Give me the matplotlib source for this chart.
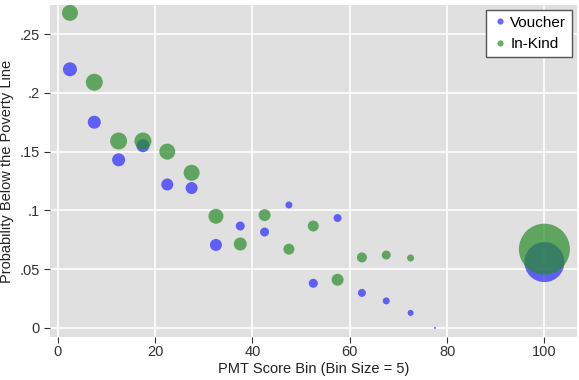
import numpy as np
import matplotlib.pyplot as plt

plt.rcParams['font.family'] = ['Liberation Sans', 'DejaVu Sans']

# PMT score bins (midpoints), last one is the "100" group
bins_vouch = [2.5, 7.5, 12.5, 17.5, 22.5, 27.5, 32.5, 37.5, 42.5, 47.5,
              52.5, 57.5, 62.5, 67.5, 72.5, 77.5, 100]
prob_vouch = [0.220, 0.175, 0.143, 0.155, 0.122, 0.119, 0.0706, 0.0867, 0.0816,
              0.1046, 0.038, 0.0935, 0.0298, 0.023, 0.0128, 0.0, 0.056]
# marker diameters (px) ~ bin sample size
diam_vouch = [14, 13, 13, 13, 12, 12, 12, 9, 9, 7, 9, 8, 8, 7, 6, 2, 40]

bins_kind = [2.5, 7.5, 12.5, 17.5, 22.5, 27.5, 32.5, 37.5, 42.5, 47.5,
             52.5, 57.5, 62.5, 67.5, 72.5, 100]
prob_kind = [0.268, 0.209, 0.159, 0.159, 0.150, 0.132, 0.095, 0.0714, 0.096,
             0.067, 0.0867, 0.041, 0.060, 0.062, 0.0595, 0.067]
diam_kind = [16, 17, 17, 17, 16, 16, 15, 13, 12, 11, 11, 12, 10, 9, 7, 51]

px = 0.72  # points per pixel at dpi 100
fig = plt.figure(figsize=(5.79, 3.80), dpi=100)
ax = fig.add_axes([50/579, 43/380, 527/579, 332/380])
ax.set_facecolor('#e0e0e0')

ax.scatter(bins_vouch, prob_vouch, s=(np.array(diam_vouch)*px)**2,
           color='#2828ff', alpha=0.7, linewidths=0, label='Voucher', zorder=3)
ax.scatter(bins_kind, prob_kind, s=(np.array(diam_kind)*px)**2,
           color='#288c28', alpha=0.7, linewidths=0, label='In-Kind', zorder=4)

ax.set_xlim(-1.6, 106.7)
ax.set_ylim(-0.0077, 0.2747)
ax.set_xticks([0, 20, 40, 60, 80, 100])
ax.set_yticks([0, 0.05, 0.1, 0.15, 0.2, 0.25])
ax.set_yticklabels(['0', '.05', '.1', '.15', '.2', '.25'])
ax.grid(color='white', linewidth=1.2, zorder=0)
ax.set_axisbelow(True)
for s in ax.spines.values():
    s.set_visible(False)
ax.tick_params(colors='#333333', labelsize=10.5, length=4, width=0.8)
ax.tick_params(axis='x', pad=2)
ax.set_xlabel('PMT Score Bin (Bin Size = 5)', fontsize=10.5, color='#222222', labelpad=2)
ax.set_ylabel('Probability Below the Poverty Line', fontsize=10.5, color='#222222', labelpad=4)

leg = ax.legend(loc='upper right', fontsize=11, markerscale=0.01, handletextpad=0.2,
                handlelength=1.0, fancybox=False, framealpha=1, edgecolor='#555555',
                borderaxespad=0.3, scatteryoffsets=[0.5])
for h in leg.legend_handles:
    h.set_sizes([20])
    h.set_alpha(0.7)

fig.savefig('out.png', dpi=100)
